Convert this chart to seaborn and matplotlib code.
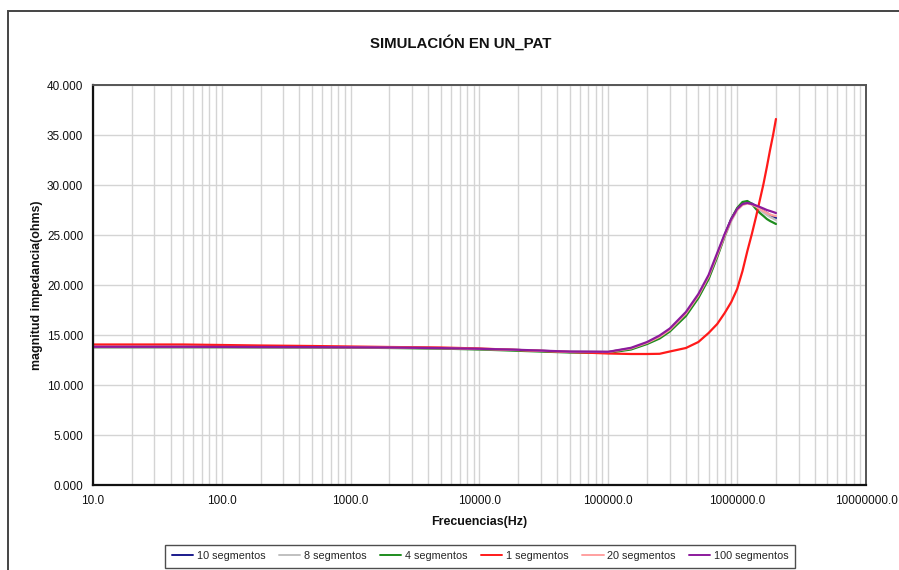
import numpy as np
import pandas as pd
import matplotlib
matplotlib.use("Agg")
import matplotlib.pyplot as plt
from matplotlib.patches import Rectangle
from matplotlib.ticker import FixedLocator, FuncFormatter, NullFormatter
import seaborn as sns

# Frequency sweep (Hz)
freq = [10, 20, 50, 100, 200, 500, 1e3, 2e3, 5e3, 1e4, 2e4, 5e4, 1e5, 1.5e5,
        2e5, 2.5e5, 3e5, 4e5, 5e5, 6e5, 7e5, 8e5, 9e5, 1e6, 1.1e6, 1.2e6,
        1.3e6, 1.4e6, 1.5e6, 1.6e6, 1.7e6, 1.8e6, 1.9e6, 2e6]

# Impedance magnitude (ohms) for each segmentation
seg_10 = [13.80, 13.80, 13.80, 13.80, 13.79, 13.78, 13.76, 13.74, 13.68, 13.60, 13.50, 13.32, 13.30, 13.65,
          14.20, 14.80, 15.50, 17.10, 18.90, 20.80, 23.00, 25.00, 26.60, 27.60, 28.10, 28.30,
          28.15, 27.90, 27.65, 27.40, 27.20, 27.00, 26.85, 26.70]
seg_8 = [13.80, 13.80, 13.80, 13.80, 13.79, 13.78, 13.76, 13.73, 13.67, 13.58, 13.48, 13.30, 13.28, 13.62,
         14.15, 14.75, 15.45, 17.00, 18.80, 20.60, 22.80, 24.80, 26.40, 27.50, 28.10, 28.30,
         28.10, 27.80, 27.50, 27.25, 27.00, 26.80, 26.65, 26.50]
seg_4 = [13.78, 13.78, 13.78, 13.78, 13.77, 13.76, 13.74, 13.70, 13.64, 13.55, 13.42, 13.25, 13.22, 13.55,
         14.10, 14.65, 15.35, 16.90, 18.70, 20.60, 22.80, 24.90, 26.60, 27.70, 28.30, 28.40,
         28.10, 27.60, 27.20, 26.90, 26.60, 26.40, 26.25, 26.10]
seg_1 = [14.05, 14.05, 14.05, 14.00, 13.95, 13.90, 13.85, 13.80, 13.75, 13.65, 13.50, 13.30, 13.15, 13.10,
         13.10, 13.12, 13.35, 13.70, 14.30, 15.20, 16.10, 17.20, 18.30, 19.60, 21.40, 23.40,
         25.10, 26.80, 28.50, 30.10, 31.80, 33.50, 35.00, 36.60]
seg_20 = [13.80, 13.80, 13.80, 13.80, 13.79, 13.78, 13.76, 13.74, 13.68, 13.60, 13.50, 13.32, 13.30, 13.66,
          14.22, 14.82, 15.52, 17.15, 18.95, 20.85, 23.00, 24.95, 26.50, 27.50, 28.00, 28.15,
          28.05, 27.85, 27.60, 27.40, 27.20, 27.05, 26.95, 26.90]
seg_100 = [13.82, 13.82, 13.82, 13.81, 13.80, 13.79, 13.77, 13.75, 13.69, 13.62, 13.52, 13.34, 13.32, 13.72,
           14.30, 14.95, 15.65, 17.30, 19.10, 21.00, 23.20, 25.10, 26.60, 27.60, 28.10, 28.20,
           28.10, 27.95, 27.80, 27.65, 27.50, 27.40, 27.30, 27.20]

labels = ["10 segmentos", "8 segmentos", "4 segmentos", "1 segmentos", "20 segmentos", "100 segmentos"]
series = [seg_10, seg_8, seg_4, seg_1, seg_20, seg_100]
colors = ["#1a1a8c", "#c0c0c0", "#1e8c1e", "#ff1a1a", "#ffa0a0", "#8c1a9c"]

x_ticks = [10, 100, 1e3, 1e4, 1e5, 1e6, 1e7]
y_ticks = [0, 5, 10, 15, 20, 25, 30, 35, 40]

df = pd.concat(
    [pd.DataFrame({"freq": freq, "z": vals, "serie": lab}) for lab, vals in zip(labels, series)],
    ignore_index=True,
)

sns.set_style("white")
plt.rcParams["font.family"] = ["Liberation Sans", "DejaVu Sans"]

fig = plt.figure(figsize=(8.99, 5.70), dpi=100)
ax = fig.add_axes([93 / 899, 1 - 485 / 570, (866 - 93) / 899, 400 / 570])

sns.lineplot(data=df, x="freq", y="z", hue="serie", hue_order=labels,
             palette=colors, estimator=None, sort=False, linewidth=1.6, ax=ax, legend=False)

ax.set_xscale("log")
ax.set_xlim(10, 1e7)
ax.set_ylim(0, 40)

minor_x = [m * 10.0 ** e for e in range(1, 7) for m in range(2, 10)]
ax.xaxis.set_major_locator(FixedLocator(x_ticks))
ax.xaxis.set_minor_locator(FixedLocator(minor_x))
ax.xaxis.set_major_formatter(FuncFormatter(lambda v, p: f"{v:.1f}"))
ax.xaxis.set_minor_formatter(NullFormatter())
ax.yaxis.set_major_locator(FixedLocator(y_ticks))
ax.yaxis.set_major_formatter(FuncFormatter(lambda v, p: f"{v:.3f}"))

ax.grid(True, which="both", axis="x", color="#d4d4d4", linewidth=1.0)
ax.grid(True, which="major", axis="y", color="#d4d4d4", linewidth=1.0)
ax.set_axisbelow(True)

ax.tick_params(axis="both", which="major", direction="out", length=4, width=1,
               color="#333333", labelsize=8.5, pad=3, labelcolor="#111111")
ax.tick_params(axis="x", which="minor", length=0)
ax.tick_params(axis="x", which="major", pad=3)

for side in ["left", "bottom"]:
    ax.spines[side].set_color("#111111")
    ax.spines[side].set_linewidth(1.6)
for side in ["top", "right"]:
    ax.spines[side].set_color("#555555")
    ax.spines[side].set_linewidth(1.4)
    ax.spines[side].set_visible(True)

ax.set_xlabel("Frecuencias(Hz)", fontsize=8.9, fontweight="bold", labelpad=7, color="#111111")
ax.set_ylabel("magnitud impedancia(ohms)", fontsize=8.9, fontweight="bold", labelpad=2.5, color="#111111")

fig.text(461 / 899, 1 - 43 / 570, "SIMULACIÓN EN UN_PAT", ha="center", va="center",
         fontsize=10.8, fontweight="bold", color="#111111")

handles = [plt.Line2D([], [], color=c, linewidth=1.4) for c in colors]
leg = fig.legend(handles, labels, loc="center", bbox_to_anchor=(480 / 899, 1 - 556 / 570),
                 ncol=6, fontsize=7.8, frameon=True, fancybox=False, handlelength=2.0,
                 handletextpad=0.3, columnspacing=1.25, borderpad=0.6)
leg.get_frame().set_edgecolor("#222222")
leg.get_frame().set_linewidth(1.0)

# Outer chart frame (open to the right and bottom edges)
fig.patches.append(Rectangle((8, -200), 1000, 570 - 11 + 200, transform=None, fill=False,
                             edgecolor="#444444", linewidth=1.4))

fig.savefig("out.png", dpi=100, facecolor="white")
